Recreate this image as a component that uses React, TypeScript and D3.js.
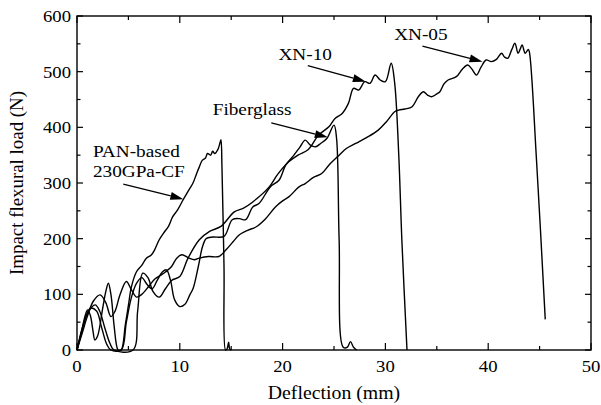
import React, { useEffect, useRef } from 'react';
import * as d3 from 'd3';

// deflection (mm), load (N)
const panCF: [number, number][] = [
  [0, 0], [0.4, 30], [0.8, 62], [1.03, 72], [1.3, 62], [1.55, 35], [1.74, 18], [2.0, 25], [2.5, 75],
  [2.8, 105], [3.05, 120], [3.3, 100], [3.6, 45], [3.85, 8], [4.0, 0], [4.3, 0], [4.7, 45], [5.0, 80],
  [5.3, 114], [5.8, 141], [6.3, 152], [6.75, 165], [7.2, 170], [7.55, 180], [8.0, 198], [8.5, 212],
  [8.9, 222], [9.3, 239], [9.8, 252], [10.3, 269], [10.8, 285], [11.26, 299], [11.6, 315], [11.9, 329],
  [12.2, 341], [12.5, 345], [12.7, 353], [13.0, 350], [13.2, 357], [13.4, 353], [13.7, 360], [13.85, 368],
  [14.0, 378], [14.1, 330], [14.3, 150], [14.45, 0], [14.6, 2], [14.75, 14], [14.85, 2], [15.0, 0]
];

const fiberglass: [number, number][] = [
  [0, 0], [0.6, 45], [1.3, 75], [1.9, 70], [2.4, 40], [2.9, 10], [3.3, 0], [4.3, 0], [4.8, 50],
  [5.3, 95], [5.8, 120], [6.3, 130], [6.8, 118], [7.3, 110], [7.8, 125], [8.3, 140], [8.7, 144],
  [9.1, 125], [9.5, 90], [10.0, 78], [10.5, 82], [11.0, 100], [11.3, 111], [11.8, 150], [12.2, 185],
  [12.55, 200], [13.2, 203], [14.3, 204], [15.1, 234], [15.8, 236], [16.4, 234], [17.1, 257], [17.7, 263],
  [18.8, 293], [19.65, 305], [20.3, 332], [21.1, 350], [21.7, 365], [22.2, 377], [22.7, 368], [23.2, 365],
  [23.7, 371], [24.3, 380], [25.0, 404], [25.25, 380], [25.5, 198], [25.9, 5], [26.3, 5], [26.6, 15],
  [26.9, 5], [27.2, 0]
];

const xn10: [number, number][] = [
  [0, 0], [0.5, 35], [1.0, 65], [1.77, 81], [2.2, 70], [2.7, 40], [3.2, 12], [3.6, 0], [5.45, 0],
  [5.9, 70], [6.4, 138], [6.9, 130], [7.4, 105], [8.0, 95], [8.6, 110], [9.2, 125], [10.0, 132],
  [10.8, 165], [11.9, 198], [12.9, 213], [14.0, 222], [15.3, 248], [16.2, 255], [17.1, 266], [18.7, 293],
  [19.5, 315], [20.6, 338], [21.5, 350], [22.5, 360], [23.5, 386], [24.5, 401], [25.1, 416], [25.8, 425],
  [26.4, 443], [26.9, 470], [27.4, 467], [28.0, 482], [28.5, 479], [29.0, 494], [29.5, 485], [30.0, 482],
  [30.56, 515], [30.9, 480], [31.3, 350], [31.6, 198], [32.1, 0]
];

const xn05: [number, number][] = [
  [0, 0], [0.5, 30], [1.0, 60], [1.6, 88], [2.25, 99], [2.8, 85], [3.3, 60], [3.68, 69], [4.2, 100],
  [4.8, 123], [5.3, 108], [5.8, 95], [6.3, 100], [7.0, 115], [7.6, 128], [8.2, 135], [8.6, 140],
  [9.2, 150], [9.7, 165], [10.2, 171], [10.9, 165], [11.4, 162], [11.9, 165], [12.8, 168], [13.8, 168],
  [14.5, 180], [15.2, 195], [15.8, 207], [16.6, 215], [17.4, 221], [18.3, 235], [19.3, 257], [20.0, 268],
  [20.6, 275], [21.6, 293], [22.2, 299], [23.0, 310], [23.8, 317], [24.5, 332], [25.5, 350], [26.2, 362],
  [27.1, 371], [28.2, 382], [29.3, 395], [30.1, 410], [30.9, 428], [31.3, 431], [31.9, 433], [32.6, 437],
  [33.2, 455], [33.7, 464], [34.1, 458], [34.5, 455], [35.0, 460], [35.3, 464], [35.7, 478], [36.1, 485],
  [36.9, 491], [37.5, 505], [38.0, 512], [38.4, 505], [38.85, 494], [39.3, 508], [39.8, 521], [40.3, 518],
  [40.8, 522], [41.3, 533], [41.6, 526], [41.9, 524], [42.3, 540], [42.6, 551], [42.9, 533], [43.1, 540],
  [43.3, 548], [43.6, 533], [43.9, 540], [44.0, 536], [44.7, 341], [45.55, 55]
];

const series = [panCF, fiberglass, xn10, xn05];

const xTicks = [0, 10, 20, 30, 40, 50];
const yTicks = [0, 100, 200, 300, 400, 500, 600];

// annotation text + arrow, in data units
const notes = [
  { lines: ['PAN-based', '230GPa-CF'], at: [1.55, 347], from: [4.5, 298], to: [10.35, 271] },
  { lines: ['Fiberglass'], at: [13.2, 422], from: [18.9, 408], to: [24.4, 382] },
  { lines: ['XN-10'], at: [19.6, 521], from: [22.45, 511], to: [28.1, 482] },
  { lines: ['XN-05'], at: [30.85, 557], from: [33.6, 546], to: [39.45, 518] }
];

const W = 601;
const H = 405;
const FONT = "'Liberation Serif', 'Times New Roman', serif";
const SX = 1.1; // the scan is a little wider than tall

const App = () => {
  const svgRef = useRef(null);

  useEffect(() => {
    const svg = d3.select(svgRef.current);
    svg.selectAll('*').remove();

    const x = d3.scaleLinear().domain([0, 50]).range([77, 591]);
    const y = d3.scaleLinear().domain([0, 600]).range([350, 16]);

    const label = (px: number, py: number, t: string, size: number, anchor = 'start', rot = 0) =>
      svg.append('text')
        .attr('transform', `translate(${px},${py}) rotate(${rot}) scale(${SX},1)`)
        .attr('text-anchor', anchor)
        .attr('font-family', FONT)
        .attr('font-size', size)
        .text(t);

    // frame
    svg.append('rect')
      .attr('x', x(0)).attr('y', y(600))
      .attr('width', x(50) - x(0)).attr('height', y(0) - y(600))
      .attr('fill', 'none').attr('stroke', '#000').attr('stroke-width', 1.4);

    // inward ticks on all four sides
    const g = svg.append('g').attr('stroke', '#000').attr('stroke-width', 1.2);
    d3.range(0, 50.1, 5).forEach(v => {
      const len = v % 10 === 0 ? 7 : 4;
      g.append('line').attr('x1', x(v)).attr('x2', x(v)).attr('y1', y(0)).attr('y2', y(0) - len);
      g.append('line').attr('x1', x(v)).attr('x2', x(v)).attr('y1', y(600)).attr('y2', y(600) + len);
    });
    d3.range(0, 600.1, 50).forEach(v => {
      const len = v % 100 === 0 ? 6 : 3.5;
      g.append('line').attr('x1', x(0)).attr('x2', x(0) + len).attr('y1', y(v)).attr('y2', y(v));
      g.append('line').attr('x1', x(50)).attr('x2', x(50) - len).attr('y1', y(v)).attr('y2', y(v));
    });

    xTicks.forEach(d => label(x(d), 372, String(d), 17, 'middle'));
    yTicks.forEach(d => label(71, y(d) + 6, String(d), 17, 'end'));

    label(x(25), 399, 'Deflection (mm)', 18, 'middle');
    svg.append('text')
      .attr('transform', `translate(23,${y(300)}) rotate(-90) scale(1.05,1)`)
      .attr('text-anchor', 'middle')
      .attr('font-family', FONT).attr('font-size', 18)
      .text('Impact flexural load (N)');

    const line = d3.line<[number, number]>()
      .x(d => x(d[0]))
      .y(d => y(d[1]))
      .curve(d3.curveCatmullRom.alpha(0.5));

    svg.append('g')
      .selectAll('path')
      .data(series)
      .join('path')
        .attr('d', d => line(d))
        .attr('fill', 'none')
        .attr('stroke', '#000')
        .attr('stroke-width', 1.4)
        .attr('stroke-linejoin', 'round');

    const ann = svg.append('g');
    notes.forEach(n => {
      n.lines.forEach((t, i) => label(x(n.at[0]), y(n.at[1]) + i * 20, t, 17.5));
      const x1 = x(n.from[0]), y1 = y(n.from[1]);
      const x2 = x(n.to[0]), y2 = y(n.to[1]);
      const a = Math.atan2(y2 - y1, x2 - x1);
      const hl = 13, hw = 4;
      const bx = x2 - hl * Math.cos(a), by = y2 - hl * Math.sin(a);
      ann.append('line')
        .attr('x1', x1).attr('y1', y1).attr('x2', bx).attr('y2', by)
        .attr('stroke', '#000').attr('stroke-width', 1.3);
      ann.append('polygon')
        .attr('points', [
          [x2, y2],
          [bx + hw * Math.sin(a), by - hw * Math.cos(a)],
          [bx - hw * Math.sin(a), by + hw * Math.cos(a)]
        ].map(p => p.join(',')).join(' '))
        .attr('fill', '#000');
    });
  }, []);

  return (
    <svg ref={svgRef} width={W} height={H} viewBox={`0 0 ${W} ${H}`}
      style={{ position: 'absolute', left: 0, top: 0, background: '#fff' }} />
  );
};

export default App;
